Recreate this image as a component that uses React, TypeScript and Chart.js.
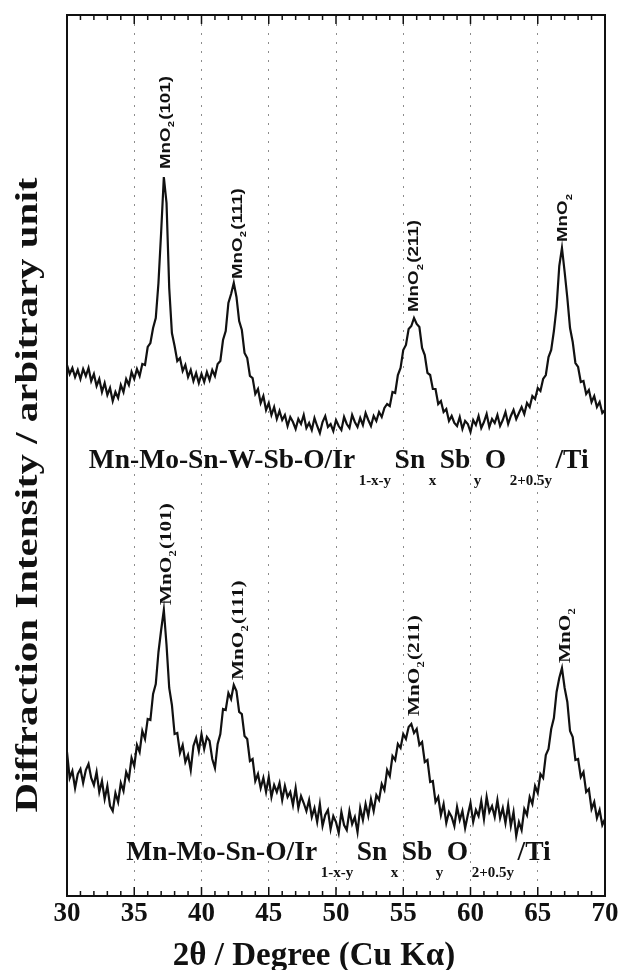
import React, { useEffect, useRef } from 'react';
import { Chart, registerables } from 'chart.js';

Chart.register(...registerables);

// 2θ sampling grid (degrees)
const twoTheta = [
  30.0, 30.2, 30.4, 30.6, 30.8, 31.0, 31.2, 31.4, 31.6, 31.8,
  32.0, 32.2, 32.4, 32.6, 32.8, 33.0, 33.2, 33.4, 33.6, 33.8,
  34.0, 34.2, 34.4, 34.6, 34.8, 35.0, 35.2, 35.4, 35.6, 35.8,
  36.0, 36.2, 36.4, 36.6, 36.8, 37.0, 37.2, 37.4, 37.6, 37.8,
  38.0, 38.2, 38.4, 38.6, 38.8, 39.0, 39.2, 39.4, 39.6, 39.8,
  40.0, 40.2, 40.4, 40.6, 40.8, 41.0, 41.2, 41.4, 41.6, 41.8,
  42.0, 42.2, 42.4, 42.6, 42.8, 43.0, 43.2, 43.4, 43.6, 43.8,
  44.0, 44.2, 44.4, 44.6, 44.8, 45.0, 45.2, 45.4, 45.6, 45.8,
  46.0, 46.2, 46.4, 46.6, 46.8, 47.0, 47.2, 47.4, 47.6, 47.8,
  48.0, 48.2, 48.4, 48.6, 48.8, 49.0, 49.2, 49.4, 49.6, 49.8,
  50.0, 50.2, 50.4, 50.6, 50.8, 51.0, 51.2, 51.4, 51.6, 51.8,
  52.0, 52.2, 52.4, 52.6, 52.8, 53.0, 53.2, 53.4, 53.6, 53.8,
  54.0, 54.2, 54.4, 54.6, 54.8, 55.0, 55.2, 55.4, 55.6, 55.8,
  56.0, 56.2, 56.4, 56.6, 56.8, 57.0, 57.2, 57.4, 57.6, 57.8,
  58.0, 58.2, 58.4, 58.6, 58.8, 59.0, 59.2, 59.4, 59.6, 59.8,
  60.0, 60.2, 60.4, 60.6, 60.8, 61.0, 61.2, 61.4, 61.6, 61.8,
  62.0, 62.2, 62.4, 62.6, 62.8, 63.0, 63.2, 63.4, 63.6, 63.8,
  64.0, 64.2, 64.4, 64.6, 64.8, 65.0, 65.2, 65.4, 65.6, 65.8,
  66.0, 66.2, 66.4, 66.6, 66.8, 67.0, 67.2, 67.4, 67.6, 67.8,
  68.0, 68.2, 68.4, 68.6, 68.8, 69.0, 69.2, 69.4, 69.6, 69.8,
  70.0,
];

// Mn-Mo-Sn-W-Sb-O / Ir1-x-ySnxSbyO2+0.5y / Ti  (upper trace, arbitrary units)
const intensityMnMoSnWSbO = [
  531, 522, 528, 519, 526, 517, 527, 520, 528, 515,
  522, 510, 517, 504, 513, 501, 508, 495, 504, 498,
  511, 504, 517, 511, 524, 517, 527, 520, 532, 531,
  549, 553, 568, 578, 613, 664, 719, 693, 608, 563,
  550, 535, 538, 525, 531, 519, 526, 515, 523, 513,
  522, 514, 524, 516, 526, 520, 532, 535, 556, 565,
  593, 602, 613, 599, 575, 566, 543, 538, 520, 518,
  502, 507, 493, 500, 486, 493, 481, 489, 477, 485,
  476, 481, 470, 479, 474, 467, 477, 472, 481, 468,
  473, 466, 478, 470, 463, 474, 480, 469, 472, 465,
  476, 470, 466, 479, 472, 468, 481, 474, 469, 478,
  471, 483, 476, 470, 480, 475, 484, 479, 488, 492,
  490, 504, 503, 521, 528, 546, 551, 567, 570, 578,
  572, 569, 548, 541, 523, 521, 507, 507, 492, 495,
  484, 487, 475, 480, 473, 470, 479, 467, 475, 472,
  464, 476, 471, 480, 468, 474, 482, 469, 477, 473,
  481, 470, 476, 484, 472, 480, 486, 477, 483, 489,
  482, 493, 489, 500, 497, 508, 505, 517, 521, 539,
  546, 565, 589, 630, 648, 624, 598, 568, 554, 533,
  529, 514, 515, 502, 506, 494, 500, 489, 494, 483,
  486,
];

// Mn-Mo-Sn-O / Ir1-x-ySnxSbyO2+0.5y / Ti  (lower trace, arbitrary units)
const intensityMnMoSnO = [
  144, 118, 125, 108, 122, 127, 113, 126, 132, 118,
  111, 124, 104, 115, 97, 110, 90, 85, 103, 94,
  113, 105, 124, 117, 138, 130, 151, 144, 165, 157,
  177, 176, 202, 212, 244, 266, 286, 251, 208, 191,
  162, 163, 143, 151, 134, 141, 126, 150, 158, 145,
  162, 147, 159, 155, 137, 128, 152, 162, 187, 186,
  203, 197, 211, 205, 184, 182, 160, 157, 135, 137,
  115, 122, 108, 118, 104, 119, 99, 111, 104, 113,
  96, 110, 99, 104, 91, 108, 88, 100, 93, 85,
  96, 79, 88, 74, 92, 70, 81, 86, 67, 80,
  74, 63, 84, 71, 66, 85, 72, 79, 64, 88,
  76, 92, 80, 97, 85, 101, 96, 112, 106, 126,
  120, 140, 136, 152, 148, 162, 157, 169, 172, 163,
  167, 151, 154, 134, 136, 114, 115, 94, 99, 81,
  92, 73, 84, 79, 70, 89, 76, 85, 68, 81,
  93, 74, 86, 80, 95, 77, 99, 84, 90, 79,
  96, 78, 88, 73, 91, 70, 84, 60, 74, 66,
  87, 81, 99, 92, 110, 103, 122, 118, 141, 147,
  167, 178, 204, 218, 228, 208, 194, 165, 159, 136,
  137, 119, 124, 104, 107, 87, 94, 78, 86, 71,
  77,
];

const xMin = 30;
const xMax = 70;
const xStep = 5;
const yMax = 881;

const xTitle = '2θ / Degree (Cu Kα)';
const yTitle = 'Diffraction Intensity / arbitrary unit';

// peak labels: anchor in data units (2θ, intensity where the label starts)
const peakLabelsUpper = [
  { x: 37.25, y: 727, main: 'MnO', sub: '2', tail: '(101)' },
  { x: 42.6, y: 617, main: 'MnO', sub: '2', tail: '(111)' },
  { x: 55.75, y: 584, main: 'MnO', sub: '2', tail: '(211)' },
  { x: 66.8, y: 654, main: 'MnO', sub: '2', tail: '' },
];
const peakLabelsLower = [
  { x: 37.3, y: 291, main: 'MnO', sub: '2', tail: '(101)' },
  { x: 42.65, y: 216, main: 'MnO', sub: '2', tail: '(111)' },
  { x: 55.75, y: 180, main: 'MnO', sub: '2', tail: '(211)' },
  { x: 66.95, y: 233, main: 'MnO', sub: '2', tail: '' },
];

// sample composition captions: [text, isSubscript]
const captionUpper: [string, boolean][] = [
  ['Mn-Mo-Sn-W-Sb-O/Ir', false], ['1-x-y', true], ['Sn', false], ['x', true],
  ['Sb', false], ['y', true], ['O', false], ['2+0.5y', true], ['/Ti', false],
];
const captionLower: [string, boolean][] = [
  ['Mn-Mo-Sn-O/Ir', false], ['1-x-y', true], ['Sn', false], ['x', true],
  ['Sb', false], ['y', true], ['O', false], ['2+0.5y', true], ['/Ti', false],
];
const captionUpperAnchor = { x: 31.62, y: 428 };
const captionLowerAnchor = { x: 34.4, y: 36 };

const SERIF = '"Liberation Serif", "Times New Roman", serif';
const SANS = '"Liberation Sans", Arial, sans-serif';
const INK = '#111';

function drawPeakLabel(ctx: CanvasRenderingContext2D, px: number, py: number, lab: any, family: string, size: number, stretch: number) {
  ctx.save();
  ctx.translate(px, py);
  ctx.rotate(-Math.PI / 2);
  ctx.scale(stretch, 1);
  ctx.fillStyle = INK;
  ctx.textAlign = 'left';
  ctx.textBaseline = 'alphabetic';
  const base = size * 0.34;
  ctx.font = `bold ${size}px ${family}`;
  ctx.fillText(lab.main, 0, base);
  let w = ctx.measureText(lab.main).width;
  const subSize = Math.round(size * 0.6);
  ctx.font = `bold ${subSize}px ${family}`;
  ctx.fillText(lab.sub, w, base + size * 0.3);
  w += ctx.measureText(lab.sub).width + 1;
  ctx.font = `bold ${size}px ${family}`;
  if (lab.tail) ctx.fillText(lab.tail, w, base);
  ctx.restore();
}

function drawCaption(ctx: CanvasRenderingContext2D, x0: number, y0: number, segs: [string, boolean][]) {
  ctx.save();
  ctx.fillStyle = INK;
  ctx.textAlign = 'left';
  ctx.textBaseline = 'alphabetic';
  let x = x0;
  for (const [t, sub] of segs) {
    ctx.font = sub ? `bold 15px ${SERIF}` : `bold 27.5px ${SERIF}`;
    ctx.fillText(t, x, sub ? y0 + 17 : y0);
    x += ctx.measureText(t).width + 3.5;
  }
  ctx.restore();
}

const decorPlugin = {
  id: 'decor',
  afterDraw(chart: any) {
    const { ctx, chartArea, scales } = chart;
    const { left, right, top, bottom } = chartArea;
    const xs = scales.x;
    const ys = scales.y;
    ctx.save();
    // frame
    ctx.strokeStyle = INK;
    ctx.lineWidth = 2;
    ctx.strokeRect(left, top, right - left, bottom - top);
    // inward ticks on top and bottom
    ctx.lineWidth = 1.5;
    for (let v = xMin; v <= xMax; v += 1) {
      const px = xs.getPixelForValue(v);
      const len = v % 5 === 0 ? 9 : 5;
      ctx.beginPath();
      ctx.moveTo(px, bottom);
      ctx.lineTo(px, bottom - len);
      ctx.moveTo(px, top);
      ctx.lineTo(px, top + len);
      ctx.stroke();
    }
    ctx.restore();

    for (const lab of peakLabelsUpper) {
      drawPeakLabel(ctx, xs.getPixelForValue(lab.x), ys.getPixelForValue(lab.y), lab, SANS, 15, 1.25);
    }
    for (const lab of peakLabelsLower) {
      drawPeakLabel(ctx, xs.getPixelForValue(lab.x), ys.getPixelForValue(lab.y), lab, SERIF, 17, 1.25);
    }
    drawCaption(ctx, xs.getPixelForValue(captionUpperAnchor.x), ys.getPixelForValue(captionUpperAnchor.y), captionUpper);
    drawCaption(ctx, xs.getPixelForValue(captionLowerAnchor.x), ys.getPixelForValue(captionLowerAnchor.y), captionLower);

    // x axis title
    ctx.save();
    ctx.fillStyle = INK;
    ctx.textAlign = 'center';
    ctx.textBaseline = 'alphabetic';
    ctx.font = `bold 33px ${SERIF}`;
    ctx.fillText(xTitle, 314, 965);
    ctx.restore();

    // y axis title (rotated)
    ctx.save();
    ctx.translate(37, 495);
    ctx.rotate(-Math.PI / 2);
    ctx.scale(1.28, 1);
    ctx.fillStyle = INK;
    ctx.textAlign = 'center';
    ctx.textBaseline = 'alphabetic';
    ctx.font = `bold 32px ${SERIF}`;
    ctx.fillText(yTitle, 0, 0);
    ctx.restore();
  },
};

export default function App() {
  const canvasRef = useRef<HTMLCanvasElement | null>(null);

  useEffect(() => {
    const canvas = canvasRef.current;
    if (!canvas) return;
    const mk = (vals: number[]) => twoTheta.map((t, i) => ({ x: t, y: vals[i] }));
    const chart = new Chart(canvas, {
      type: 'line',
      data: {
        datasets: [
          { label: 'Mn-Mo-Sn-W-Sb-O', data: mk(intensityMnMoSnWSbO), borderColor: INK, borderWidth: 2.2, pointRadius: 0, tension: 0, fill: false },
          { label: 'Mn-Mo-Sn-O', data: mk(intensityMnMoSnO), borderColor: INK, borderWidth: 2.2, pointRadius: 0, tension: 0, fill: false },
        ],
      },
      options: {
        animation: false,
        responsive: false,
        devicePixelRatio: 1,
        layout: { padding: { left: 67, right: 13, top: 15, bottom: 0 } },
        plugins: { legend: { display: false }, tooltip: { enabled: false } },
        scales: {
          x: {
            type: 'linear',
            min: xMin,
            max: xMax,
            afterFit: (s: any) => { s.height = 74; s.paddingLeft = 0; s.paddingRight = 0; },
            ticks: {
              stepSize: xStep,
              autoSkip: false,
              maxRotation: 0,
              padding: 2,
              color: INK,
              font: { family: SERIF, size: 27, weight: 'bold' },
            },
            grid: {
              drawTicks: false,
              lineWidth: 1,
              color: (c: any) => (c.tick && (c.tick.value === xMin || c.tick.value === xMax)) ? 'rgba(0,0,0,0)' : '#8c8c8c',
            },
            border: { display: false, dash: [2, 7] },
            title: { display: false, text: xTitle },
          },
          y: { display: false, min: 0, max: yMax },
        },
      },
      plugins: [decorPlugin],
    } as any);
    return () => chart.destroy();
  }, []);

  return (
    <div style={{ position: 'absolute', left: 0, top: 0, width: 618, height: 970, background: '#fff' }}>
      <canvas ref={canvasRef} width={618} height={970} style={{ display: 'block', width: 618, height: 970 }} />
    </div>
  );
}
